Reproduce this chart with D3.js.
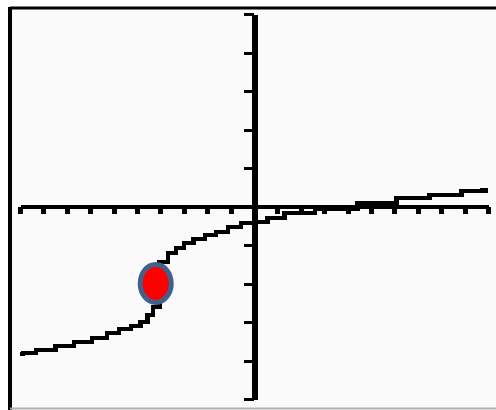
<!DOCTYPE html>
<html>
<head>
<meta charset="utf-8">
<script src="https://cdn.jsdelivr.net/npm/d3@7"></script>
<style>
  html, body { margin: 0; padding: 0; background: #ffffff; }
  svg { display: block; }
</style>
</head>
<body>
<script>
// Graph window: x from -10 to 10, y from -5 to 5, tick every unit
const xWindow = [-10, 10];
const yWindow = [-5, 5];
const xTickValues = d3.range(-10, 11).filter(v => v !== 0);
const yTickValues = d3.range(-5, 6).filter(v => v !== 0);

// Traced graph points (x, y), left to right
const curveX = [-10.0, -9.74, -8.89, -8.08, -7.31, -6.54, -6.03, -5.51, -5.00, -4.70, -4.40, -4.23,
                -3.85, -3.50, -3.16, -2.82, -2.35, -1.84, -1.41, -0.81, -0.30,
                 0.30,  0.85,  1.75,  3.46,  5.38,  6.79,  8.21,  9.53, 10.0];
const curveY = [-3.83, -3.81, -3.73, -3.62, -3.52, -3.42, -3.29, -3.18, -3.10, -3.00, -2.82, -2.61,
                -1.44, -1.21, -1.08, -0.95, -0.84, -0.74, -0.66, -0.53, -0.43,
                -0.40, -0.30, -0.17, -0.05,  0.09,  0.22,  0.30,  0.40, 0.42];

// Highlighted point on the graph
const markedPoint = { x: -4.2, y: -2.0 };

const W = 496, H = 410;
const svg = d3.select("body").append("svg")
  .attr("width", W).attr("height", H);

// Screen background and frame
svg.append("rect").attr("x", 0).attr("y", 0).attr("width", W).attr("height", H).attr("fill", "#ffffff");
svg.append("rect").attr("x", 10).attr("y", 8).attr("width", W - 10).attr("height", 400).attr("fill", "#fafafa");
svg.append("line").attr("x1", 10).attr("x2", W).attr("y1", 8).attr("y2", 8)
  .attr("stroke", "#000").attr("stroke-width", 3);
svg.append("line").attr("x1", 10).attr("x2", 10).attr("y1", 7).attr("y2", H)
  .attr("stroke", "#000").attr("stroke-width", 4);
svg.append("line").attr("x1", 10).attr("x2", W).attr("y1", 408.5).attr("y2", 408.5)
  .attr("stroke", "#b0b0b0").attr("stroke-width", 2);

const x = d3.scaleLinear().domain(xWindow).range([20, 488]);
const y = d3.scaleLinear().domain(yWindow).range([399, 14]);

// x-axis with square tick marks below it
const xAxis = svg.append("g")
  .attr("transform", `translate(0,${y(0)})`)
  .call(d3.axisBottom(x).tickValues(xTickValues).tickSize(7).tickSizeOuter(0).tickFormat(""));
xAxis.select(".domain").attr("stroke", "#000").attr("stroke-width", 4).attr("shape-rendering", "crispEdges");
xAxis.selectAll(".tick line").attr("stroke", "#000").attr("stroke-width", 5).attr("shape-rendering", "crispEdges");

// y-axis with ticks to its left
const yAxis = svg.append("g")
  .attr("transform", `translate(${x(0)},0)`)
  .call(d3.axisLeft(y).tickValues(yTickValues).tickSize(10).tickSizeOuter(0).tickFormat(""));
yAxis.select(".domain").attr("stroke", "#000").attr("stroke-width", 6).attr("shape-rendering", "crispEdges");
yAxis.selectAll(".tick line").attr("stroke", "#000").attr("stroke-width", 3).attr("shape-rendering", "crispEdges");

// The graph, drawn in calculator-style steps
const pts = curveX.map((v, i) => [v, curveY[i]]);
const line = d3.line().x(d => x(d[0])).y(d => y(d[1])).curve(d3.curveStep);
svg.append("path")
  .attr("d", line(pts))
  .attr("fill", "none")
  .attr("stroke", "#000")
  .attr("stroke-width", 4.5)
  .attr("shape-rendering", "crispEdges");

// Highlighted point
svg.append("ellipse")
  .attr("cx", x(markedPoint.x))
  .attr("cy", y(markedPoint.y))
  .attr("rx", 15.5)
  .attr("ry", 19)
  .attr("fill", "#ff0000")
  .attr("stroke", "#41608c")
  .attr("stroke-width", 5);
</script>
</body>
</html>
